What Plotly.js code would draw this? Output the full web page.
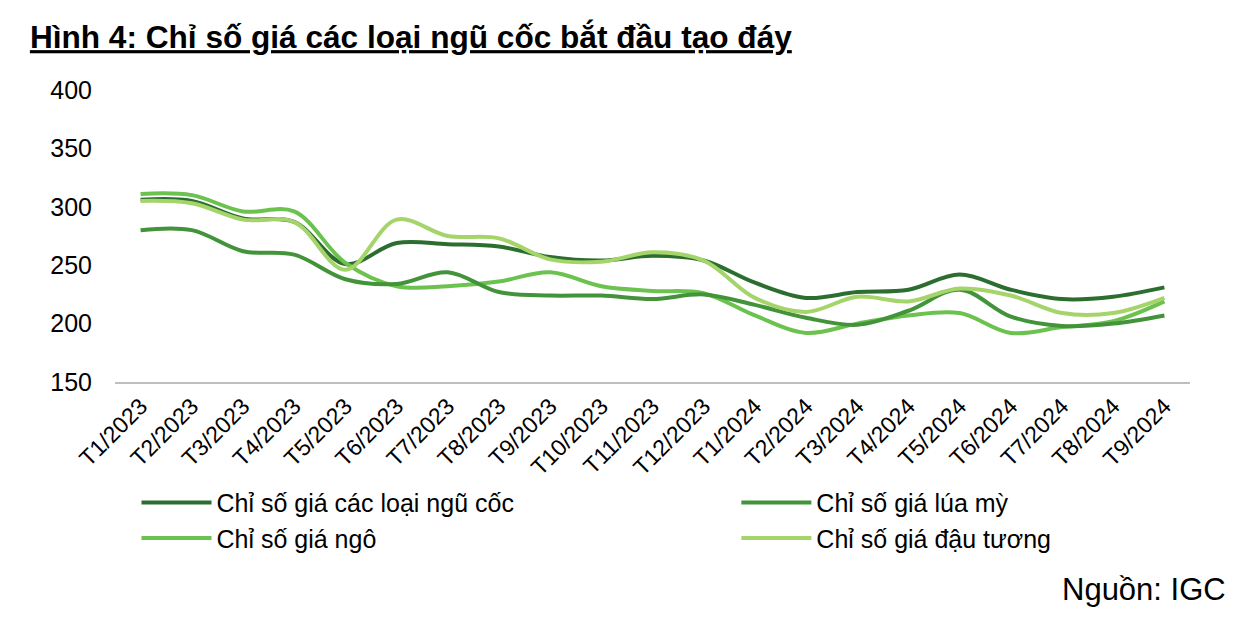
<!DOCTYPE html>
<html>
<head>
<meta charset="utf-8">
<script src="https://cdn.plot.ly/plotly-3.0.1.min.js"></script>
<style>
  html, body { margin: 0; padding: 0; background: #fff; }
  #chart { width: 1246px; height: 618px; }
</style>
</head>
<body>
<div id="chart"></div>
<script>
// Cereal price indices, Jan 2023 - Sep 2024 (source: IGC)
const months = [
  "T1/2023", "T2/2023", "T3/2023", "T4/2023", "T5/2023", "T6/2023", "T7/2023",
  "T8/2023", "T9/2023", "T10/2023", "T11/2023", "T12/2023", "T1/2024", "T2/2024",
  "T3/2024", "T4/2024", "T5/2024", "T6/2024", "T7/2024", "T8/2024", "T9/2024",
];
const cereals = [306, 305, 290, 287, 251, 269, 268, 266, 257, 254, 258, 254, 235, 222, 227, 229, 242, 229, 221, 223, 231];
const wheat = [280, 280, 262, 259, 238, 234, 244, 227, 224, 224, 221, 225, 216, 205, 199, 211, 229, 206, 198, 200, 207];
const corn = [311, 310, 296, 296, 252, 232, 232, 236, 244, 232, 228, 226, 207, 192, 200, 207, 209, 192, 197, 202, 219];
const soybean = [305, 303, 289, 287, 246, 289, 275, 273, 255, 253, 261, 254, 222, 210, 223, 219, 230, 224, 209, 209, 222];

const FONT = "Liberation Sans, Arial, sans-serif";

function line(name, y, color, legend) {
  return {
    x: months,
    y,
    name,
    legend,
    type: "scatter",
    mode: "lines",
    line: { color, width: 4, shape: "spline", smoothing: 1 },
    hoverinfo: "x+y",
  };
}

const traces = [
  line("Chỉ số giá các loại ngũ cốc", cereals, "#2c6e2f", "legend"),
  line("Chỉ số giá ngô", corn, "#6cc24f", "legend"),
  line("Chỉ số giá lúa mỳ", wheat, "#43933a", "legend2"),
  line("Chỉ số giá đậu tương", soybean, "#a5d46a", "legend2"),
];

const legendBase = {
  orientation: "v",
  yanchor: "top",
  xanchor: "left",
  y: -0.335,
  font: { family: FONT, size: 25, color: "#000" },
  itemwidth: 70,
  tracegroupgap: 0,
  bgcolor: "rgba(0,0,0,0)",
};

const layout = {
  width: 1246,
  height: 618,
  paper_bgcolor: "#fff",
  plot_bgcolor: "#fff",
  margin: { l: 115, r: 56, t: 90, b: 236 },
  title: {
    text: "<b><u>Hình 4: Chỉ số giá các loại ngũ cốc bắt đầu tạo đáy</u></b>",
    xref: "container",
    yref: "container",
    x: 0.024,
    xanchor: "left",
    y: 0.94,
    yanchor: "middle",
    font: { family: FONT, size: 31.6, color: "#000" },
  },
  xaxis: {
    type: "category",
    range: [-0.5, months.length - 0.5],
    showgrid: false,
    zeroline: false,
    showline: true,
    linecolor: "#bfbfbf",
    linewidth: 1.5,
    ticks: "",
    tickangle: -45,
    tickfont: { family: FONT, size: 23, color: "#000" },
    automargin: false,
  },
  yaxis: {
    range: [150, 400],
    tickvals: [150, 200, 250, 300, 350, 400],
    showgrid: false,
    zeroline: false,
    showline: false,
    ticks: "",
    ticklabelstandoff: 22,
    tickfont: { family: FONT, size: 25, color: "#000" },
    automargin: false,
  },
  legend: { ...legendBase, x: 0.02 },
  legend2: { ...legendBase, x: 0.578 },
  annotations: [
    {
      text: "Nguồn: IGC",
      xref: "paper",
      yref: "paper",
      x: 1.035,
      xanchor: "right",
      y: -0.71,
      yanchor: "middle",
      showarrow: false,
      font: { family: FONT, size: 31, color: "#000" },
    },
  ],
};

Plotly.newPlot("chart", traces, layout, { displayModeBar: false, responsive: false });
</script>
</body>
</html>
